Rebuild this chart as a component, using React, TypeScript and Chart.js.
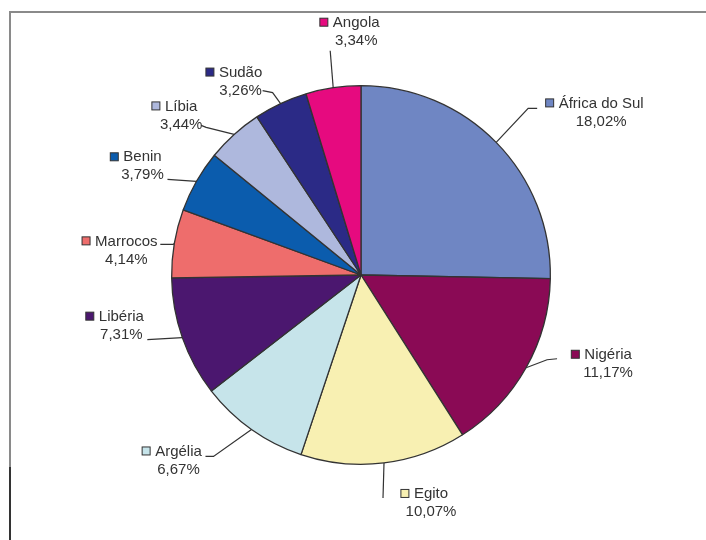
import React, { useEffect, useRef } from "react";
import { Chart, registerables } from "chart.js";

Chart.register(...registerables);

const countries = [
  "África do Sul",
  "Nigéria",
  "Egito",
  "Argélia",
  "Libéria",
  "Marrocos",
  "Benin",
  "Líbia",
  "Sudão",
  "Angola",
];
const shares = [18.02, 11.17, 10.07, 6.67, 7.31, 4.14, 3.79, 3.44, 3.26, 3.34];
const sliceColors = [
  "#6f86c3",
  "#8a0a55",
  "#f8f0b2",
  "#c6e4ea",
  "#4b176f",
  "#ee6d6c",
  "#0b5cad",
  "#aeb8dd",
  "#2b2a86",
  "#e60a7f",
];

// label layout: offsets relative to the slice's outer mid-point
const labelLayout = [
  { text: [105, -39], leader: [[32, -34], [41, -34]] },
  { text: [82, -13], leader: [[21, -8], [31, -9]] },
  { text: [47, 31], leader: [[-1, 35]] },
  { text: [-73, 22], leader: [[-38, 27], [-46, 27]] },
  { text: [-61, -21], leader: [[-35, 2]] },
  { text: [-48, -2], leader: [[-1, 1], [-14, 1]] },
  { text: [-54, -24], leader: [[-29, -2]] },
  { text: [-53, -28], leader: [[-28, -7], [-33, -9]] },
  { text: [-40, -31], leader: [[-8, -11], [-18, -13]] },
  { text: [23, -65], leader: [[-3, -37]] },
];

const fmt = (v: number) => v.toFixed(2).replace(".", ",") + "%";

const framePlugin = {
  id: "frame",
  beforeDraw(chart: any) {
    const ctx = chart.ctx;
    ctx.save();
    ctx.fillStyle = "#ffffff";
    ctx.fillRect(0, 0, chart.width, chart.height);
    ctx.lineWidth = 2;
    ctx.strokeStyle = "#8a8a8a";
    ctx.beginPath();
    ctx.moveTo(9, 12);
    ctx.lineTo(chart.width, 12);
    ctx.moveTo(10, 12);
    ctx.lineTo(10, 467);
    ctx.stroke();
    ctx.strokeStyle = "#333333";
    ctx.beginPath();
    ctx.moveTo(10, 467);
    ctx.lineTo(10, chart.height);
    ctx.stroke();
    ctx.restore();
  },
};

const labelPlugin = {
  id: "pieLabels",
  afterDatasetsDraw(chart: any) {
    const ctx = chart.ctx;
    const meta = chart.getDatasetMeta(0);
    ctx.save();
    ctx.font = "15px 'Liberation Sans', Arial, sans-serif";
    ctx.textBaseline = "middle";
    meta.data.forEach((arc: any, i: number) => {
      const p = arc.getProps(["x", "y", "startAngle", "endAngle", "outerRadius"], true);
      const mid = (p.startAngle + p.endAngle) / 2;
      const ex = p.x + p.outerRadius * Math.cos(mid);
      const ey = p.y + p.outerRadius * Math.sin(mid);
      const lay = labelLayout[i];
      // leader line
      ctx.strokeStyle = "#333333";
      ctx.lineWidth = 1.2;
      ctx.beginPath();
      ctx.moveTo(ex, ey);
      lay.leader.forEach((pt: number[]) => ctx.lineTo(ex + pt[0], ey + pt[1]));
      ctx.stroke();
      // text
      const tx = ex + lay.text[0];
      const ty = ey + lay.text[1];
      const name = countries[i];
      const w = ctx.measureText(name).width;
      ctx.fillStyle = "#333333";
      ctx.textAlign = "center";
      ctx.fillText(name, tx, ty);
      ctx.fillText(fmt(shares[i]), tx, ty + 18);
      // marker square
      const sx = tx - w / 2 - 13;
      ctx.fillStyle = sliceColors[i];
      ctx.fillRect(sx, ty - 4.5, 8, 8);
      ctx.strokeStyle = "#333333";
      ctx.lineWidth = 1;
      ctx.strokeRect(sx, ty - 4.5, 8, 8);
    });
    ctx.restore();
  },
};

export default function App() {
  const ref = useRef<HTMLCanvasElement | null>(null);
  useEffect(() => {
    if (!ref.current) return;
    const chart = new Chart(ref.current, {
      type: "pie",
      data: {
        labels: countries,
        datasets: [
          {
            data: shares,
            backgroundColor: sliceColors,
            borderColor: "#333333",
            borderWidth: 1.3,
          },
        ],
      },
      options: {
        responsive: false,
        animation: false,
        layout: { padding: { left: 171, right: 155, top: 85, bottom: 75 } },
        plugins: {
          legend: { display: false },
          tooltip: { enabled: false },
        },
      },
      plugins: [framePlugin, labelPlugin],
    });
    return () => chart.destroy();
  }, []);
  return (
    <div style={{ position: "fixed", left: 0, top: 0, width: 706, height: 540, background: "#fff" }}>
      <canvas ref={ref} width={706} height={540} style={{ width: 706, height: 540 }} />
    </div>
  );
}
